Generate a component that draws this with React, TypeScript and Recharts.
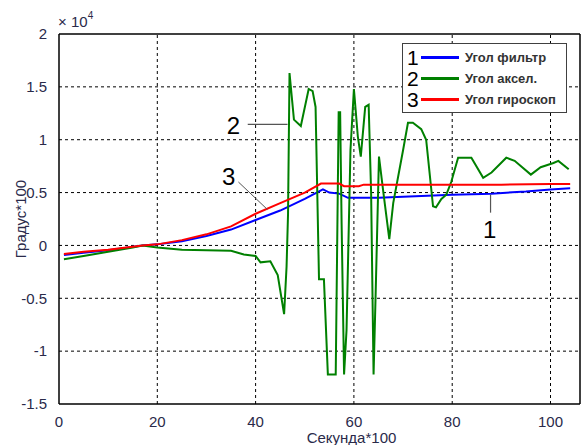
import {
  LineChart,
  Line,
  XAxis,
  YAxis,
  Legend,
  ReferenceLine,
  ReferenceDot,
} from "recharts";

// time (seconds*100) vs angle (degrees*100)
const filterAngle: [number, number][] = [
  [1, -900], [5, -700], [10, -450], [17, 0], [20, 100], [25, 400], [30, 900],
  [35, 1500], [40, 2400], [45, 3300], [50, 4400], [53.7, 5300], [55, 5000],
  [57, 4900], [58.8, 4500], [65, 4500], [70, 4600], [75, 4700], [80, 4800],
  [88, 4900], [95, 5100], [100, 5300], [104, 5400],
];

const accelAngle: [number, number][] = [
  [1, -1300], [5, -1000], [10, -600], [15, -200], [17, 0], [20, -200],
  [25, -400], [30, -450], [35, -500], [37.6, -850], [40, -1000], [41, -1600],
  [43, -1500], [44.5, -2800], [45.8, -6500], [46.3, -2000], [46.6, 3000],
  [46.9, 16300], [47.8, 11900], [49.2, 11300], [50.8, 14800], [51.6, 14600],
  [52.2, 13100], [52.9, -3200], [53.9, -3200], [54.7, -12200], [56.3, -12200],
  [56.9, 12600], [57.2, 12600], [57.5, 2000], [58, -12200], [58.5, -8000],
  [59.3, 9000], [60, 14800], [60.8, 10300], [61.4, 8400], [62.3, 13100],
  [63, 13300], [63.5, 5000], [64, -12200], [64.4, -5000], [65.1, 8400],
  [66, 5000], [67.2, 600], [68, 4000], [70, 9000], [71, 11600], [72, 11600],
  [73.7, 11000], [74.7, 10000], [76.1, 3700], [76.7, 3600], [77.8, 4400],
  [78.8, 4800], [79.8, 6000], [81.2, 8300], [83.9, 8300], [86.3, 6400],
  [88, 6900], [91, 8300], [92.7, 8000], [96, 6700], [98, 7400], [100.6, 7800],
  [101.6, 8000], [103.7, 7200],
];

const gyroAngle: [number, number][] = [
  [1, -800], [5, -600], [10, -400], [17, 0], [20, 100], [25, 500], [30, 1050],
  [35, 1800], [40, 3000], [45, 4000], [50, 5000], [53.3, 5850], [57, 5850],
  [58, 5600], [61, 5600], [62, 5750], [70, 5750], [80, 5750], [90, 5750],
  [100, 5800], [104, 5800],
];

const xTicks = [0, 20, 40, 60, 80, 100];
const yTicks = [-15000, -10000, -5000, 0, 5000, 10000, 15000, 20000];
const X_MAX = 106;
const Y_MIN = -15000;
const Y_MAX = 20000;

const series = [
  { num: "1", name: "Угол фильтр", color: "#0000ff", points: filterAngle },
  { num: "2", name: "Угол аксел.", color: "#008000", points: accelAngle },
  { num: "3", name: "Угол гироскоп", color: "#ff0000", points: gyroAngle },
];

const toRows = (pts: [number, number][]) => pts.map(([t, v]) => ({ t, v }));

const font = "'Liberation Sans', Arial, sans-serif";
const tickStyle = { fontSize: 15, fill: "#2a2a4a", fontFamily: font };

function YLabel(props: any) {
  const vb = props.viewBox || { x: 0, y: 34, width: 59, height: 370 };
  const cy = vb.y + vb.height / 2;
  return (
    <g fontFamily={font} fill="#2a2a4a">
      <text
        transform={`translate(26, ${cy}) rotate(-90)`}
        textAnchor="middle"
        fontSize={15}
      >
        Градус*100
      </text>
      <text x={58} y={27} fontSize={15}>
        × 10
        <tspan dy={-8} fontSize={10}>
          4
        </tspan>
      </text>
    </g>
  );
}

function LegendBox() {
  return (
    <div
      style={{
        border: "1.5px solid #404040",
        background: "#fff",
        width: 165,
        height: 70,
        boxSizing: "border-box",
        padding: "3px 0 0 4px",
        fontFamily: font,
      }}
    >
      {series.map((s) => (
        <div
          key={s.num}
          style={{ display: "flex", alignItems: "center", height: 21 }}
        >
          <span style={{ fontSize: 21, width: 13, lineHeight: "20px", color: "#000" }}>
            {s.num}
          </span>
          <span
            style={{
              display: "inline-block",
              width: 38,
              height: 2.5,
              background: s.color,
              marginLeft: 1,
              marginRight: 6,
            }}
          />
          <span style={{ fontSize: 13, fontWeight: "bold", color: "#333", lineHeight: "20px" }}>
            {s.name}
          </span>
        </div>
      ))}
    </div>
  );
}

const ax = { xAxisId: "b", yAxisId: "l" };

export default function App() {
  return (
    <div style={{ position: "absolute", left: 0, top: 0, background: "#fff" }}>
      <LineChart
        width={588}
        height={445}
        margin={{ top: 34, right: 8, left: 0, bottom: 0 }}
      >
        <XAxis
          xAxisId="b"
          type="number"
          dataKey="t"
          domain={[0, X_MAX]}
          ticks={xTicks}
          allowDataOverflow
          height={41}
          tickLine={false}
          tickMargin={6}
          tick={tickStyle}
          axisLine={{ stroke: "#000", strokeWidth: 1.5 }}
          label={{
            value: "Секунда*100",
            position: "insideBottom",
            dx: 32,
            offset: 2,
            style: { fontSize: 15, fill: "#2a2a4a", fontFamily: font },
          }}
        />
        <YAxis
          yAxisId="l"
          type="number"
          domain={[Y_MIN, Y_MAX]}
          ticks={yTicks}
          width={59}
          tickLine={false}
          tickMargin={6}
          tick={tickStyle}
          tickFormatter={(v: number) => String(v / 10000)}
          axisLine={{ stroke: "#000", strokeWidth: 1.5 }}
          label={<YLabel />}
        />
        {/* dotted grid */}
        {xTicks.slice(1).map((t) => (
          <ReferenceLine key={"gx" + t} {...ax} x={t} stroke="#000" strokeDasharray="3 3" />
        ))}
        {yTicks.slice(1, -1).map((v) => (
          <ReferenceLine key={"gy" + v} {...ax} y={v} stroke="#000" strokeDasharray="3 3" />
        ))}
        {/* box */}
        <ReferenceLine {...ax} x={X_MAX} stroke="#000" strokeWidth={1.5} />
        <ReferenceLine {...ax} y={Y_MAX} stroke="#000" strokeWidth={1.5} />
        {series.map((s) => (
          <Line
            key={s.num}
            {...ax}
            data={toRows(s.points)}
            dataKey="v"
            name={s.name}
            type="linear"
            stroke={s.color}
            strokeWidth={2}
            dot={false}
            isAnimationActive={false}
          />
        ))}
        {/* callouts */}
        <ReferenceLine
          {...ax}
          segment={[{ x: 38.4, y: 11450 }, { x: 46.5, y: 11450 }]}
          stroke="#555"
          strokeWidth={1.2}
        />
        <ReferenceLine
          {...ax}
          segment={[{ x: 36.5, y: 6000 }, { x: 42.4, y: 3400 }]}
          stroke="#555"
          strokeWidth={1}
        />
        <ReferenceLine
          {...ax}
          segment={[{ x: 87.8, y: 4800 }, { x: 87.8, y: 3100 }]}
          stroke="#555"
          strokeWidth={1.2}
        />
        <ReferenceDot
          {...ax}
          x={35.5}
          y={11300}
          r={0}
          fill="none"
          stroke="none"
          label={{ value: "2", position: "center", fontSize: 24, fill: "#000", fontFamily: font }}
        />
        <ReferenceDot
          {...ax}
          x={34.5}
          y={6500}
          r={0}
          fill="none"
          stroke="none"
          label={{ value: "3", position: "center", fontSize: 24, fill: "#000", fontFamily: font }}
        />
        <ReferenceDot
          {...ax}
          x={87.6}
          y={1500}
          r={0}
          fill="none"
          stroke="none"
          label={{ value: "1", position: "center", fontSize: 24, fill: "#000", fontFamily: font }}
        />
        <Legend
          layout="horizontal"
          verticalAlign="middle"
          align="center"
          content={() => <LegendBox />}
          wrapperStyle={{ left: 402, top: 43, width: 165, height: 70 }}
        />
      </LineChart>
    </div>
  );
}
